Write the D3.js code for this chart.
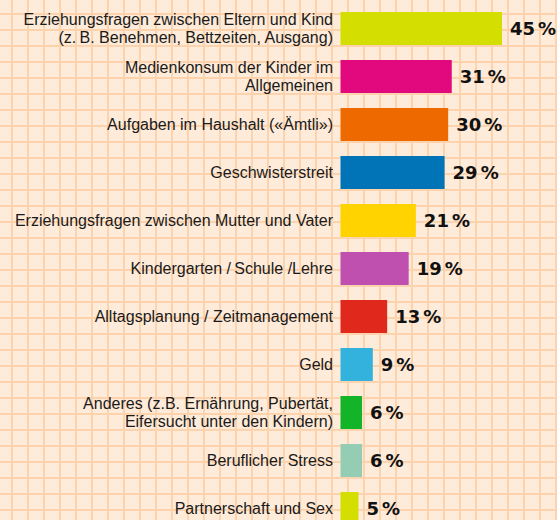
<!DOCTYPE html>
<html><head><meta charset="utf-8">
<script src="https://cdn.jsdelivr.net/npm/d3@7"></script>
<style>
html,body{margin:0;padding:0;background:#FEEBD9;}
svg{display:block;}
</style></head>
<body>
<svg id="chart" width="557" height="520"></svg>
<script>
const categories = [
  ["Erziehungsfragen zwischen Eltern und Kind", "(z.\u2009B. Benehmen, Bettzeiten, Ausgang)"],
  ["Medienkonsum der Kinder im", "Allgemeinen"],
  ["Aufgaben im Haushalt («Ämtli»)"],
  ["Geschwisterstreit"],
  ["Erziehungsfragen zwischen Mutter und Vater"],
  ["Kindergarten /\u2009Schule /Lehre"],
  ["Alltagsplanung / Zeitmanagement"],
  ["Geld"],
  ["Anderes (z.B. Ernährung, Pubertät,", "Eifersucht unter den Kindern)"],
  ["Beruflicher Stress"],
  ["Partnerschaft und Sex"]
];
const values = [45, 31, 30, 29, 21, 19, 13, 9, 6, 6, 5];
const colors = ["#D4DE00", "#E2097F", "#EE6A00", "#0074B7", "#FFD300", "#C050B0", "#E0291C", "#33B2DE", "#14B428", "#95CCB4", "#D4DE00"];

const W = 557, H = 520;
const svg = d3.select("#chart");

// background + graph-paper grid
svg.append("rect").attr("width", W).attr("height", H).attr("fill", "#FEEBD9");
const grid = svg.append("g").attr("stroke", "#FDD3AE").attr("stroke-width", 2);
grid.selectAll("line.v").data(d3.range(12, W, 16)).join("line")
  .attr("x1", d => d).attr("x2", d => d).attr("y1", 0).attr("y2", H);
grid.selectAll("line.h").data(d3.range(14, H, 16)).join("line")
  .attr("y1", d => d).attr("y2", d => d).attr("x1", 0).attr("x2", W);

const idx = d3.range(values.length);
const y = d3.scaleBand().domain(idx).range([4.5, 4.5 + 48 * values.length])
  .paddingInner(15 / 48).paddingOuter(15 / 96);
const x = d3.scaleLinear().domain([0, 45]).range([340.5, 502]);

const g = svg.append("g");
g.selectAll("rect.bar").data(idx).join("rect")
  .attr("class", "bar")
  .attr("x", x(0))
  .attr("y", i => y(i))
  .attr("width", i => x(values[i]) - x(0))
  .attr("height", y.bandwidth())
  .attr("fill", i => colors[i]);

// category labels
const font = "'Liberation Sans', Arial, Helvetica, sans-serif";
const lab = g.selectAll("text.cat").data(idx).join("text")
  .attr("class", "cat")
  .attr("text-anchor", "end")
  .attr("font-family", font)
  .attr("font-size", 16)
  .attr("fill", "#1a1a1a");
lab.each(function (i) {
  const lines = categories[i];
  const cy = y(i) + y.bandwidth() / 2;
  const lh = 18;
  const t = d3.select(this);
  lines.forEach((l, k) => {
    t.append("tspan")
      .attr("x", 333)
      .attr("y", cy + (k - (lines.length - 1) / 2) * lh)
      .attr("dy", "0.35em")
      .text(l);
  });
});

// value labels
const vl = g.selectAll("text.val").data(idx).join("text")
  .attr("class", "val")
  .attr("x", i => x(values[i]) + 8)
  .attr("y", i => y(i) + y.bandwidth() / 2)
  .attr("dy", "0.36em")
  .attr("font-family", "'DejaVu Sans', 'Liberation Sans', Arial, sans-serif")
  .attr("font-weight", "bold")
  .attr("font-size", 18)
  .attr("fill", "#111");
vl.append("tspan").text(i => values[i]);
vl.append("tspan").attr("dx", 3).text("%");
</script>
</body></html>
